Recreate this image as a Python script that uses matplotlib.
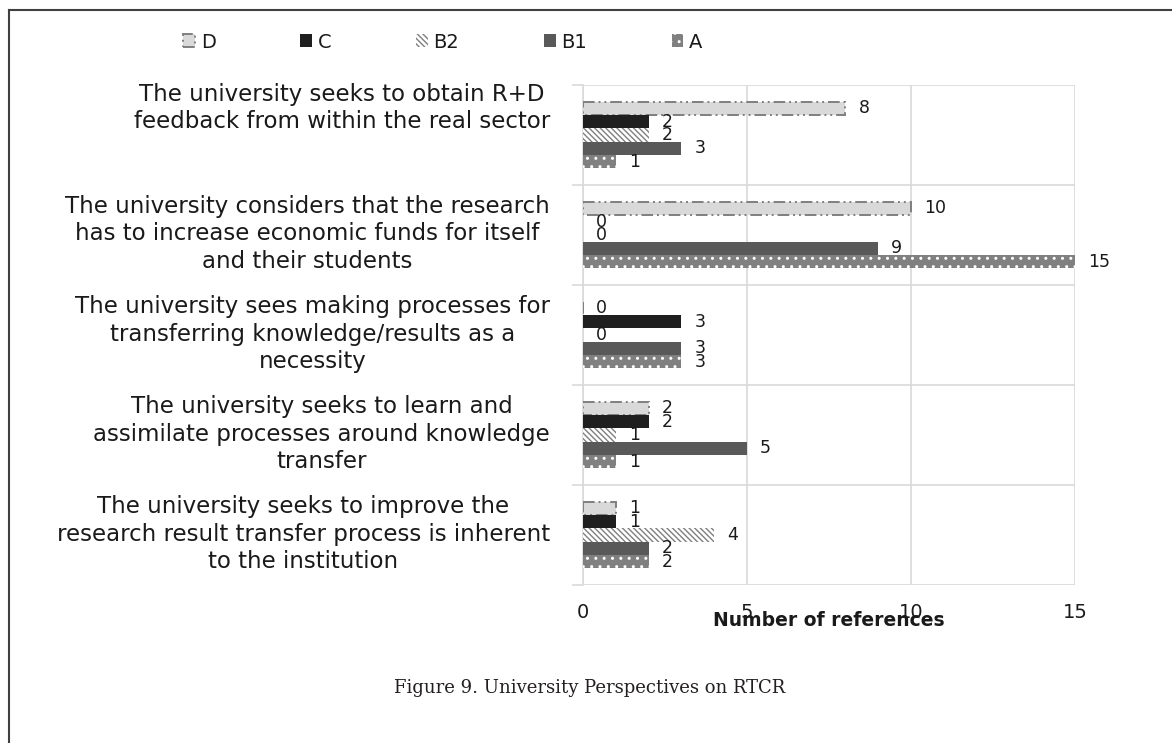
import matplotlib.pyplot as plt
from matplotlib.lines import Line2D
import numpy as np

# ---- data ----
categories = [
    "The university seeks to obtain R+D\nfeedback from within the real sector",
    "The university considers that the research\nhas to increase economic funds for itself\nand their students",
    "The university sees making processes for\ntransferring knowledge/results as a\nnecessity",
    "The university seeks to learn and\nassimilate processes around knowledge\ntransfer",
    "The university seeks to improve the\nresearch result transfer process is inherent\nto the institution",
]
series_names = ["D", "C", "B2", "B1", "A"]
D = [8, 10, 0, 2, 1]
C = [2, 0, 3, 2, 1]
B2 = [2, 0, 0, 1, 4]
B1 = [3, 9, 3, 5, 2]
A = [1, 15, 3, 1, 2]
xticks = [0, 5, 10, 15]

# ---- styles ----
styles = {
    "D": dict(facecolor="#d9d9d9", edgecolor="#7f7f7f", linewidth=1.4, linestyle=(0, (6, 2, 1, 2, 1, 2))),
    "C": dict(facecolor="#1f1f1f", edgecolor="#1f1f1f", linewidth=0),
    "B2": dict(facecolor="white", edgecolor="#7f7f7f", linewidth=0, hatch="\\\\\\\\\\\\"),
    "B1": dict(facecolor="#595959", edgecolor="#595959", linewidth=0),
    "A": dict(facecolor="#808080", edgecolor="white", linewidth=0, hatch=".."),
}

plt.rcParams['font.family'] = ['DejaVu Sans']

W, H = 1172, 743
fig = plt.figure(figsize=(W / 100, H / 100), dpi=100)
ax = fig.add_axes([583 / W, 1 - 585 / H, (1075 - 583) / W, (585 - 85) / H])

values = [D, C, B2, B1, A]
n = len(categories)
y = np.arange(n)
h = 0.133
for k, (name, vals) in enumerate(zip(series_names, values)):
    offs = (k - 2) * h
    ax.barh(y + offs, vals, height=h, label=name, zorder=3, **styles[name])
    for yy, v in zip(y + offs, vals):
        ax.annotate(str(v), (v, yy), xytext=(13, 0), textcoords="offset pixels",
                    ha="left", va="center", fontsize=12.5, color="#1a1a1a",
                    annotation_clip=False)

ax.set_xlim(0, 15)
ax.set_ylim(n - 0.5, -0.5)
ax.set_xticks(xticks)
ax.set_xticklabels([str(t) for t in xticks], fontsize=14, color="#1a1a1a")
ax.tick_params(axis="x", length=0, pad=13)
ax.set_yticks(y)
ax.set_yticklabels([])
ax.set_yticks(np.arange(n + 1) - 0.5, minor=True)
ax.tick_params(axis="y", which="major", length=0)
ax.tick_params(axis="y", which="minor", length=8, color="#d9d9d9", width=1.2)
ax.grid(axis="x", color="#d9d9d9", linewidth=1.2, zorder=0)
ax.grid(axis="y", which="minor", color="#d9d9d9", linewidth=1.2, zorder=0)
for s in ["top", "right", "bottom"]:
    ax.spines[s].set_visible(False)
ax.spines["left"].set_color("#d9d9d9")
ax.spines["left"].set_linewidth(1.2)

# category labels (Excel-style, centred lines, right edge near the axis)
nudge = [-0.12, 0, 0, 0, 0]
tr = ax.get_yaxis_transform()
for i, lab in enumerate(categories):
    ax.text(-0.067, i - 0.5 + 0.1 + nudge[i], lab, transform=tr, ha="right", va="top",
            multialignment="center", fontsize=16.5, color="#1a1a1a", linespacing=1.25)

ax.text(0.5, -0.07, "Number of references", transform=ax.transAxes, ha="center",
        va="center", fontsize=13.5, fontweight="bold", color="#1a1a1a")

leg = fig.legend(loc="center", bbox_to_anchor=(443 / W, 1 - 42 / H), ncol=5,
                 frameon=False, fontsize=14, handlelength=0.6, handleheight=0.6,
                 handletextpad=0.3, columnspacing=4.35)
for t in leg.get_texts():
    t.set_color("#1a1a1a")

fig.text(590 / W, 1 - 688 / H, "Figure 9. University Perspectives on RTCR",
         ha="center", va="center", fontsize=13, family=["DejaVu Serif"],
         color="#231f20")

# page frame (top and left)
fig.add_artist(Line2D([9 / W, 1], [1 - 10 / H, 1 - 10 / H], transform=fig.transFigure,
                      color="#404040", linewidth=1.5))
fig.add_artist(Line2D([9 / W, 9 / W], [0, 1 - 10 / H], transform=fig.transFigure,
                      color="#404040", linewidth=1.5))

fig.savefig("out.png", dpi=100)
